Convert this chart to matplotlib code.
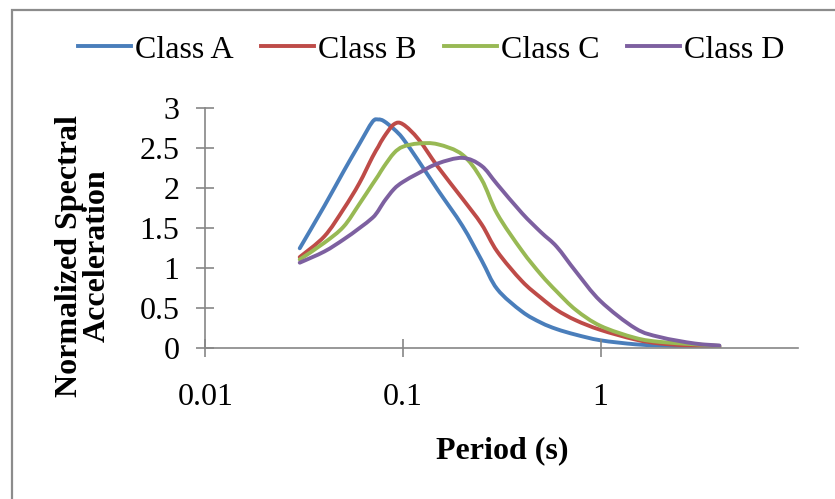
import numpy as np
import matplotlib
matplotlib.use('Agg')
import matplotlib.pyplot as plt
from matplotlib.patches import Rectangle, PathPatch
from matplotlib.path import Path
from matplotlib.lines import Line2D

#period (s) and normalized spectral acceleration for each site class
period = [0.03, 0.04, 0.05, 0.06, 0.07, 0.075, 0.08, 0.09, 0.1, 0.12, 0.15, 0.2,
          0.25, 0.3, 0.4, 0.5, 0.6, 0.75, 1.0, 1.5, 2.0, 3.0, 4.0]

class_a = [1.25, 1.78, 2.21, 2.55, 2.83, 2.86, 2.84, 2.74, 2.62, 2.34, 1.98, 1.53,
           1.10, 0.74, 0.46, 0.32, 0.24, 0.17, 0.10, 0.05, 0.035, 0.02, 0.015]
class_b = [1.14, 1.40, 1.74, 2.06, 2.39, 2.52, 2.64, 2.80, 2.80, 2.61, 2.27, 1.87,
           1.55, 1.21, 0.84, 0.63, 0.48, 0.35, 0.23, 0.11, 0.06, 0.03, 0.02]
class_c = [1.11, 1.32, 1.52, 1.80, 2.05, 2.16, 2.27, 2.44, 2.52, 2.56, 2.55, 2.42,
           2.11, 1.68, 1.22, 0.92, 0.71, 0.48, 0.28, 0.13, 0.08, 0.05, 0.03]
class_d = [1.07, 1.21, 1.36, 1.50, 1.63, 1.72, 1.83, 1.99, 2.08, 2.19, 2.31, 2.38,
           2.28, 2.05, 1.69, 1.45, 1.27, 0.96, 0.59, 0.25, 0.14, 0.06, 0.035]

labels = ['Class A', 'Class B', 'Class C', 'Class D']
colors = ['#4A7EBB', '#BE4B48', '#98B954', '#7D60A0']


#excel style smoothed line: catmull-rom segments as cubic bezier (in log-x space)
def smooth_path(x, y):
    lx = np.log10(x)
    y = np.asarray(y, dtype=float)
    n = len(lx)
    verts = [(x[0], y[0])]
    codes = [Path.MOVETO]
    for i in range(n - 1):
        i0 = max(i - 1, 0)
        i3 = min(i + 2, n - 1)
        c1x = lx[i] + (lx[i + 1] - lx[i0]) / 6
        c1y = y[i] + (y[i + 1] - y[i0]) / 6
        c2x = lx[i + 1] - (lx[i3] - lx[i]) / 6
        c2y = y[i + 1] - (y[i3] - y[i]) / 6
        verts += [(10 ** c1x, c1y), (10 ** c2x, c2y), (x[i + 1], y[i + 1])]
        codes += [Path.CURVE4] * 3
    return Path(verts, codes)


plt.rcParams['font.family'] = ['Liberation Serif', 'DejaVu Serif']
fs = 23

fig = plt.figure(figsize=(8.35, 4.99), dpi=100)
ax = fig.add_axes([0.2461, 0.302, 0.7096, 0.481])

ax.set_xscale('log')
ax.set_xlim(0.01, 10)
ax.set_ylim(0, 3)

handles = []
for vals, lab, col in zip([class_a, class_b, class_c, class_d], labels, colors):
    patch = PathPatch(smooth_path(period, vals), fill=False, edgecolor=col,
                      lw=2.8, capstyle='round', joinstyle='round',
                      transform=ax.transData)
    ax.add_patch(patch)
    handles.append(Line2D([], [], color=col, lw=2.8, label=lab))

ax.set_xticks([0.01, 0.1, 1])
ax.set_xticklabels(['0.01', '0.1', '1'])
ax.xaxis.set_minor_locator(matplotlib.ticker.NullLocator())
ax.set_yticks([0, 0.5, 1, 1.5, 2, 2.5, 3])
ax.set_yticklabels(['0', '0.5', '1', '1.5', '2', '2.5', '3'])

for s in ['top', 'right']:
    ax.spines[s].set_visible(False)
for s in ['left', 'bottom']:
    ax.spines[s].set_color('#868686')
    ax.spines[s].set_linewidth(1.2)

ax.tick_params(axis='both', direction='inout', length=13.5, width=1.2,
               color='#868686', labelsize=fs)
ax.tick_params(axis='y', pad=12)
ax.tick_params(axis='x', pad=18)

ax.set_xlabel('Period (s)', fontsize=fs, fontweight='bold', labelpad=18)
fig.text(83 / 835, 1 - 256 / 499, 'Normalized Spectral\nAcceleration',
         rotation=90, ha='center', va='center', fontsize=fs,
         fontweight='bold', linespacing=0.95, multialignment='center')

fig.legend(handles=handles, loc='center', bbox_to_anchor=(431 / 835, 1 - 50 / 499),
           ncol=4, frameon=False, fontsize=fs, handlelength=1.66,
           handletextpad=0.13, columnspacing=0.85, borderpad=0, borderaxespad=0)

#chart border
fig.patches.append(Rectangle((12 / 835, -0.1), 1.2, 1 - 10 / 499 + 0.1,
                             transform=fig.transFigure, fill=False,
                             edgecolor='#8C8C8C', lw=1.6))

fig.savefig('out.png', dpi=100)
